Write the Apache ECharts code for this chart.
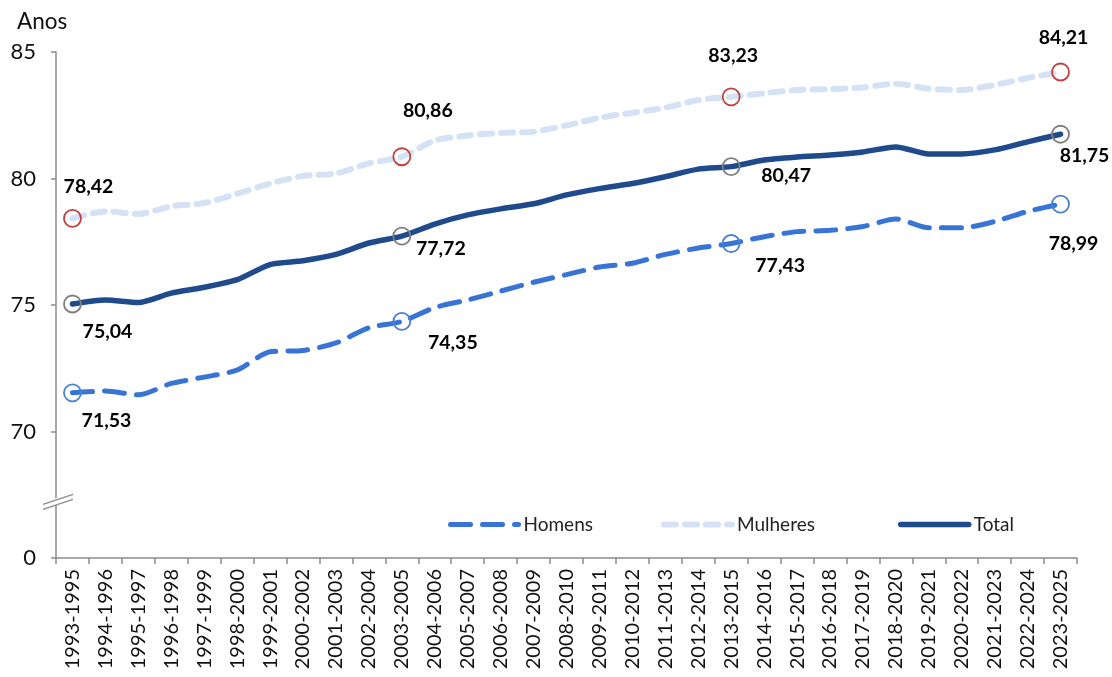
<!DOCTYPE html>
<html>
<head>
<meta charset="utf-8">
<script src="https://cdn.jsdelivr.net/npm/echarts@6.0.0/dist/echarts.min.js"></script>
<style>html,body{margin:0;padding:0;background:#fff}#c{width:1112px;height:677px}</style>
</head>
<body>
<div id="c"></div>
<script>
const categories = ['1993-1995','1994-1996','1995-1997','1996-1998','1997-1999','1998-2000','1999-2001','2000-2002','2001-2003','2002-2004','2003-2005','2004-2006','2005-2007','2006-2008','2007-2009','2008-2010','2009-2011','2010-2012','2011-2013','2012-2014','2013-2015','2014-2016','2015-2017','2016-2018','2017-2019','2018-2020','2019-2021','2020-2022','2021-2023','2022-2024','2023-2025'];
const homens = [71.53,71.6,71.45,71.9,72.15,72.43,73.15,73.2,73.5,74.1,74.35,74.9,75.2,75.55,75.9,76.2,76.5,76.65,77.0,77.25,77.43,77.7,77.9,77.95,78.1,78.4,78.05,78.05,78.3,78.7,78.99];
const mulheres = [78.42,78.7,78.6,78.9,79.03,79.4,79.8,80.1,80.2,80.6,80.86,81.5,81.7,81.8,81.85,82.1,82.4,82.6,82.8,83.1,83.23,83.37,83.5,83.53,83.6,83.75,83.55,83.5,83.7,83.97,84.21];
const total = [75.04,75.2,75.1,75.47,75.7,76.0,76.6,76.75,77.0,77.45,77.72,78.2,78.56,78.8,79.0,79.35,79.6,79.8,80.07,80.37,80.47,80.73,80.85,80.93,81.05,81.25,80.97,80.97,81.13,81.45,81.75];
const yTickLabels = {65:'0',70:'70',75:'75',80:'80',85:'85'};
const labelIdx = [0,10,20,30];

// label offsets (style only)
const offsets = {
  Homens:   {0:[34,28],10:[51,21],20:[49,22],30:[13,40]},
  Mulheres: {0:[16,-32],10:[26,-46],20:[2,-41],30:[3,-34]},
  Total:    {0:[35,28],10:[39,13],20:[55,9],30:[24,21]}
};
const fmt = v => v.toFixed(2).replace('.', ',');
const FONT = 'Lato, "Noto Sans", sans-serif';

function build(name, values) {
  return values.map((v, i) => {
    if (labelIdx.indexOf(i) < 0) return v;
    return {value: v, label: {show: true, position: 'inside', offset: offsets[name][i],
      formatter: fmt(v), fontFamily: FONT, fontWeight: 'bold', fontSize: 19.5, color: '#000'}};
  });
}
const symSize = (val, p) => labelIdx.indexOf(p.dataIndex) >= 0 ? 17 : 0;

const legendBase = {
  top: 510, itemWidth: 68, itemHeight: 14, itemGap: 68,
  textStyle: {fontFamily: FONT, fontSize: 19, color: '#222'},
  itemStyle: {opacity: 0},
  lineStyle: {width: 'inherit', type: 'inherit', cap: 'round'}
};

const chart = echarts.init(document.getElementById('c'), null, {renderer: 'canvas'});
chart.setOption({
  animation: false,
  backgroundColor: '#fff',
  title: {text: 'Anos', left: 12, top: 5, textStyle: {fontFamily: FONT, fontWeight: 'normal', fontSize: 22.5, color: '#111'}},
  grid: {left: 56, right: 35, top: 52, bottom: 119, containLabel: false},
  legend: [
    Object.assign({left: 443, data: ['Homens', 'Mulheres']}, legendBase),
    Object.assign({left: 893, data: ['Total']}, legendBase)
  ],
  xAxis: {
    type: 'category', data: categories, boundaryGap: true,
    axisLine: {lineStyle: {color: '#8c8c8c', width: 1.5}},
    axisTick: {show: true, length: 6, interval: 0, lineStyle: {color: '#8c8c8c', width: 1.5}},
    axisLabel: {interval: 0, rotate: 90, margin: 11, fontFamily: FONT, fontSize: 20, color: '#111'}
  },
  yAxis: {
    type: 'value', min: 65, max: 85, interval: 5,
    axisLine: {show: true, lineStyle: {color: '#8c8c8c', width: 1.5}},
    axisTick: {show: true, length: 5, lineStyle: {color: '#8c8c8c', width: 1.5}},
    splitLine: {show: false},
    axisLabel: {margin: 20, fontFamily: FONT, fontSize: 22, color: '#111', formatter: v => yTickLabels[v]}
  },
  series: [
    {name: 'Homens', type: 'line', data: build('Homens', homens), smooth: 0.25,
      symbol: 'circle', symbolSize: symSize, showAllSymbol: true, z: 3,
      lineStyle: {color: '#3873d6', width: 5, type: [20, 12], cap: 'round'},
      itemStyle: {color: 'rgba(0,0,0,0)', borderColor: '#4a80d0', borderWidth: 1.8}},
    {name: 'Mulheres', type: 'line', data: build('Mulheres', mulheres), smooth: 0.25,
      symbol: 'circle', symbolSize: symSize, showAllSymbol: true, z: 2,
      lineStyle: {color: '#d5e1f5', width: 6, type: [12, 9], cap: 'round'},
      itemStyle: {color: 'rgba(0,0,0,0)', borderColor: '#c0403d', borderWidth: 1.8}},
    {name: 'Total', type: 'line', data: build('Total', total), smooth: 0.25,
      symbol: 'circle', symbolSize: symSize, showAllSymbol: true, z: 4,
      lineStyle: {color: '#1f4a8c', width: 5.5, cap: 'round'},
      itemStyle: {color: 'rgba(0,0,0,0)', borderColor: '#7f7f7f', borderWidth: 1.8}}
  ]
});

// axis break symbol
const p = chart.convertToPixel({gridIndex: 0}, [0, 67.2]);
const ax = 56, by = p[1];
chart.setOption({graphic: [
  {type: 'polygon', z: 100, shape: {points: [[ax-6, by+5], [ax+6, by+1], [ax+6, by-6], [ax-6, by-2]]}, style: {fill: '#fff'}},
  {type: 'line', z: 101, shape: {x1: ax-13, y1: by+7, x2: ax+17, y2: by-3}, style: {stroke: '#8c8c8c', lineWidth: 1.5}},
  {type: 'line', z: 101, shape: {x1: ax-13, y1: by+2, x2: ax+17, y2: by-8}, style: {stroke: '#8c8c8c', lineWidth: 1.5}}
]});
</script>
</body>
</html>
